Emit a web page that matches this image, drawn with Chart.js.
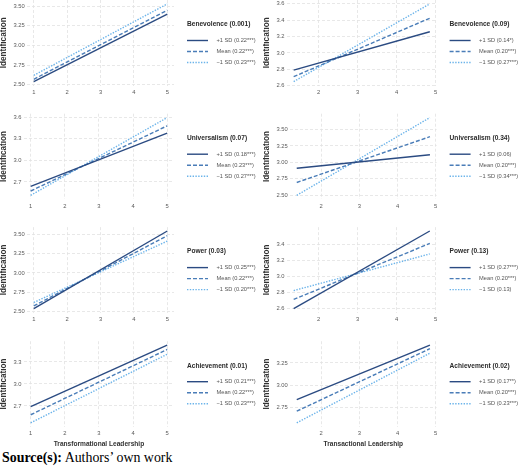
<!DOCTYPE html>
<html>
<head>
<meta charset="utf-8">
<script src="https://cdn.jsdelivr.net/npm/chart.js@4.4.1/dist/chart.umd.min.js"></script>
<style>
  html, body { margin: 0; padding: 0; background: #fff; }
  #wrap { position: relative; width: 520px; height: 467px; overflow: hidden; }
  #wrap canvas { position: absolute; }
  #source { position: absolute; left: 2px; top: 451px; font: 13.9px/1 'Liberation Serif', 'Times New Roman', serif; color: #000; white-space: nowrap; }
</style>
</head>
<body>
<div id="wrap">
  <div id="source"><b>Source(s):</b> Authors’ own work</div>
</div>
<script>
// ── Data ────────────────────────────────────────────────
const moderators = ['Benevolence', 'Universalism', 'Power', 'Achievement'];
const tflModP = ['0.001', '0.07', '0.03', '0.01'];
const trlModP = ['0.09', '0.34', '0.13', '0.02'];
const levelNames = ['+1 SD', 'Mean', '\u22121 SD'];

// x range of the simple-slope lines
const tflX = [1, 5];
const trlX = [1.36, 4.85];
const tflXTicks = ['1', '2', '3', '4', '5'];
const trlXTicks = ['2', '3', '4', '5'];

// predicted Identification at [low x, high x], one pair per moderator
const tflHigh = [[2.54, 3.40], [2.64, 3.38], [2.54, 3.54], [2.69, 3.53]];
const tflMean = [[2.57, 3.45], [2.575, 3.48], [2.575, 3.48], [2.58, 3.47]];
const tflLow  = [[2.62, 3.53], [2.515, 3.595], [2.62, 3.41], [2.47, 3.405]];
const trlHigh = [[2.79, 3.26], [2.91, 3.115], [2.60, 3.565], [2.84, 3.45]];
const trlMean = [[2.71, 3.425], [2.695, 3.39], [2.715, 3.41], [2.71, 3.41]];
const trlLow  = [[2.65, 3.60], [2.50, 3.68], [2.825, 3.28], [2.58, 3.36]];

// simple slopes shown in the legends
const tflHighSlope = ['0.22***', '0.18***', '0.25***', '0.21***'];
const tflMeanSlope = ['0.22***', '0.23***', '0.22***', '0.22***'];
const tflLowSlope  = ['0.23***', '0.27***', '0.20***', '0.23***'];
const trlHighSlope = ['0.14*', '0.06', '0.27***', '0.17**'];
const trlMeanSlope = ['0.20***', '0.20***', '0.20***', '0.20***'];
const trlLowSlope  = ['0.27***', '0.34***', '0.13', '0.23***'];

const tflYTicks = [
  ['2.50', '2.75', '3.00', '3.25', '3.50'],
  ['2.7', '3.0', '3.3', '3.6'],
  ['2.50', '2.75', '3.00', '3.25', '3.50'],
  ['2.7', '3.0', '3.3'],
];
const trlYTicks = [
  ['2.6', '2.8', '3.0', '3.2', '3.4', '3.6'],
  ['2.50', '2.75', '3.00', '3.25', '3.50'],
  ['2.6', '2.8', '3.0', '3.2', '3.4'],
  ['2.75', '3.00', '3.25'],
];

// ── Style / layout ──────────────────────────────────────
const FONT = "'Liberation Sans', Arial, Helvetica, sans-serif";
Chart.defaults.font.family = FONT;
Chart.defaults.animation = false;

const LINE_COLORS = ['#2b4b82', '#4a7db8', '#6cb4ea'];
const LINE_DASH   = [[], [4, 2], [1.4, 1.4]];
const ROW_TOP = [0, 113.7, 227.1, 341.2];
const PLOT_H  = 85.5;
const TICK_FONT = 5.8;

const wrap = document.getElementById('wrap');

function expand(lo, hi) {
  const d = (hi - lo) * 0.05;
  return [lo - d, hi + d];
}

// legend to the right of each panel: moderator title + line samples
function slopeLegend(title, entries) {
  return {
    id: 'slopeLegend',
    afterDraw(chart) {
      const { ctx, chartArea } = chart;
      const x0 = chartArea.right + 13;
      ctx.save();
      ctx.textBaseline = 'middle';
      ctx.textAlign = 'left';
      ctx.fillStyle = '#2b2b2b';
      ctx.font = 'bold 6.6px ' + FONT;
      ctx.fillText(title, x0, chartArea.top + 24.5);
      ctx.font = '5.7px ' + FONT;
      chart.data.datasets.forEach((ds, i) => {
        const y = chartArea.top + 40.5 + i * 11;
        ctx.save();
        ctx.strokeStyle = ds.borderColor;
        ctx.lineWidth = ds.borderWidth;
        ctx.setLineDash(ds.borderDash);
        ctx.beginPath();
        ctx.moveTo(x0, y);
        ctx.lineTo(x0 + 21, y);
        ctx.stroke();
        ctx.restore();
        ctx.fillStyle = '#555';
        ctx.fillText(entries[i], x0 + 29.5, y);
      });
      ctx.restore();
    }
  };
}

function buildPanel(col, row) {
  const isTfl = col === 0;
  const xs = isTfl ? tflX : trlX;
  const xTickLabels = isTfl ? tflXTicks : trlXTicks;
  const yTickLabels = (isTfl ? tflYTicks : trlYTicks)[row];
  const series = isTfl
    ? [tflHigh[row], tflMean[row], tflLow[row]]
    : [trlHigh[row], trlMean[row], trlLow[row]];
  const slopes = isTfl
    ? [tflHighSlope[row], tflMeanSlope[row], tflLowSlope[row]]
    : [trlHighSlope[row], trlMeanSlope[row], trlLowSlope[row]];
  const p = (isTfl ? tflModP : trlModP)[row];

  const allY = series.flat();
  const [yMin, yMax] = expand(Math.min(...allY), Math.max(...allY));
  const [xMin, xMax] = expand(xs[0], xs[1]);

  const canvasLeft = isTfl ? 0 : 263;
  const canvasW = isTfl ? 260 : 257;
  const plotRight = isTfl ? 174 : 436.6;
  const plotTop = ROW_TOP[row];
  const canvasTop = Math.floor(plotTop) - 10;
  const padTop = plotTop - canvasTop;
  const bottomRow = row === 3;
  const canvasH = Math.ceil(padTop + PLOT_H + (bottomRow ? 24 : 14));

  const canvas = document.createElement('canvas');
  canvas.width = canvasW;
  canvas.height = canvasH;
  canvas.style.left = canvasLeft + 'px';
  canvas.style.top = canvasTop + 'px';
  canvas.style.width = canvasW + 'px';
  canvas.style.height = canvasH + 'px';
  wrap.appendChild(canvas);

  const datasets = series.map((s, i) => ({
    label: levelNames[i],
    data: [{ x: xs[0], y: s[0] }, { x: xs[1], y: s[1] }],
    borderColor: LINE_COLORS[i],
    borderDash: LINE_DASH[i],
    borderWidth: 1.4,
    pointRadius: 0,
    fill: false,
    tension: 0,
  }));

  const entries = levelNames.map((n, i) => n + ' (' + slopes[i] + ')');

  new Chart(canvas, {
    type: 'line',
    data: { datasets },
    options: {
      responsive: false,
      maintainAspectRatio: false,
      devicePixelRatio: 1,
      events: [],
      layout: { padding: { top: padTop, right: canvasW - (plotRight - canvasLeft), bottom: 0, left: 0 } },
      plugins: { legend: { display: false }, tooltip: { enabled: false } },
      scales: {
        x: {
          type: 'linear',
          min: xMin,
          max: xMax,
          grid: { color: '#e2e2e2', lineWidth: 0.8, drawTicks: false },
          border: { display: false, dash: [3, 2] },
          afterBuildTicks: s => { s.ticks = xTickLabels.map(v => ({ value: +v })); },
          afterFit: s => {
            s.height = canvasH - padTop - PLOT_H;
            s.paddingLeft = 0; s.paddingRight = 0;
          },
          ticks: {
            autoSkip: false,
            maxRotation: 0,
            padding: 3.5,
            color: '#5a5a5a',
            font: { size: TICK_FONT },
            callback: (v, i) => xTickLabels[i],
          },
          title: {
            display: bottomRow,
            text: isTfl ? 'Transformational Leadership' : 'Transactional Leadership',
            color: '#333',
            font: { size: 6.6, weight: 'bold', lineHeight: 1 },
            padding: { top: 0, bottom: 3.7 },
          },
        },
        y: {
          type: 'linear',
          min: yMin,
          max: yMax,
          grid: { color: '#e2e2e2', lineWidth: 0.8, drawTicks: false },
          border: { display: false, dash: [3, 2] },
          afterBuildTicks: s => { s.ticks = yTickLabels.map(v => ({ value: +v })); },
          afterFit: s => {
            const c = s.ctx;
            c.save();
            c.font = TICK_FONT + 'px ' + FONT;
            const w = Math.max(...yTickLabels.map(t => c.measureText(t).width));
            c.restore();
            s.width = 13.5 + w + 2.3;
            s.paddingTop = 0; s.paddingBottom = 0;
          },
          ticks: {
            autoSkip: false,
            padding: 2.3,
            color: '#5a5a5a',
            font: { size: TICK_FONT },
            callback: (v, i) => yTickLabels[i],
          },
          title: {
            display: true,
            text: 'Identification',
            color: '#333',
            font: { size: 8.2, weight: 'bold', lineHeight: 1 },
            padding: 0,
          },
        },
      },
    },
    plugins: [slopeLegend(moderators[row] + ' (' + p + ')', entries)],
  });
}

for (let row = 0; row < 4; row++) {
  buildPanel(0, row);
  buildPanel(1, row);
}
</script>
</body>
</html>
